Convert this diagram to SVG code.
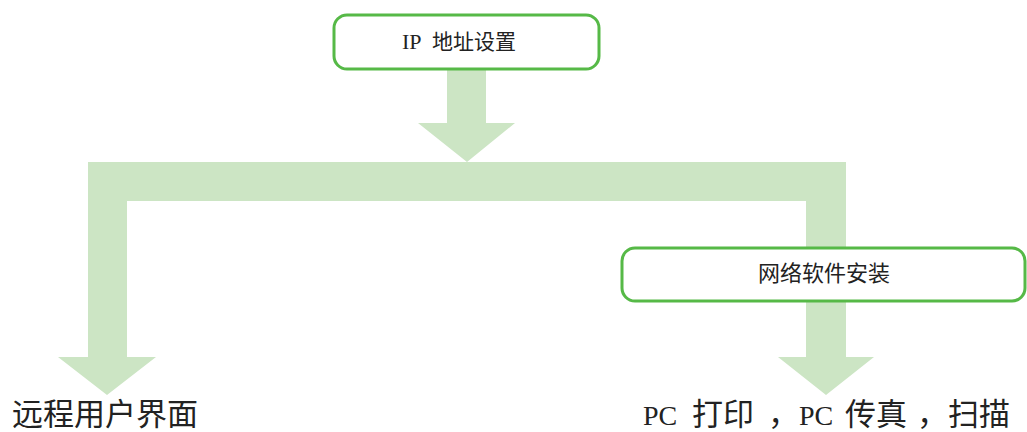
<svg xmlns="http://www.w3.org/2000/svg" width="1027" height="432" viewBox="0 0 1027 432">
<style>
.box{fill:#fff;stroke:#56b947;stroke-width:3}
.conn{fill:#cce5c4}
.cjk{font-family:"Noto Sans CJK SC",sans-serif;fill:#222}
.lat{font-family:"Liberation Serif","Noto Sans CJK SC",serif}
</style>
<rect width="1027" height="432" fill="#fff"/>
<g id="connectors">
<polygon class="conn" points="447,68 486,68 486,123 515,123 467,162 418,123 447,123"/>
<polygon class="conn" points="88,162 846,162 846,357 874,357 826,395 778,357 806,357 806,201 127,201 127,357 156,357 107,395 58,357 88,357"/>
</g>
<g id="node-ip">
<rect class="box" x="334" y="15" width="265" height="54" rx="13"/>
<text class="cjk" y="49" font-size="21"><tspan class="lat" x="402" font-size="22">IP</tspan><tspan x="432">地址设置</tspan></text>
</g>
<g id="node-software">
<rect class="box" x="622" y="248" width="403" height="53" rx="13"/>
<text class="cjk" x="758" y="281" font-size="22">网络软件安装</text>
</g>
<g id="node-remote">
<text class="cjk" x="12" y="425" font-size="31">远程用户界面</text>
</g>
<g id="node-pc">
<text class="cjk" y="425" font-size="31"><tspan class="lat" x="643" font-size="28">PC</tspan><tspan x="692">打印</tspan><tspan x="768">，</tspan><tspan class="lat" x="799" font-size="28">PC</tspan><tspan x="845">传真</tspan><tspan x="917">，</tspan><tspan x="948">扫描</tspan></text>
</g>
</svg>
